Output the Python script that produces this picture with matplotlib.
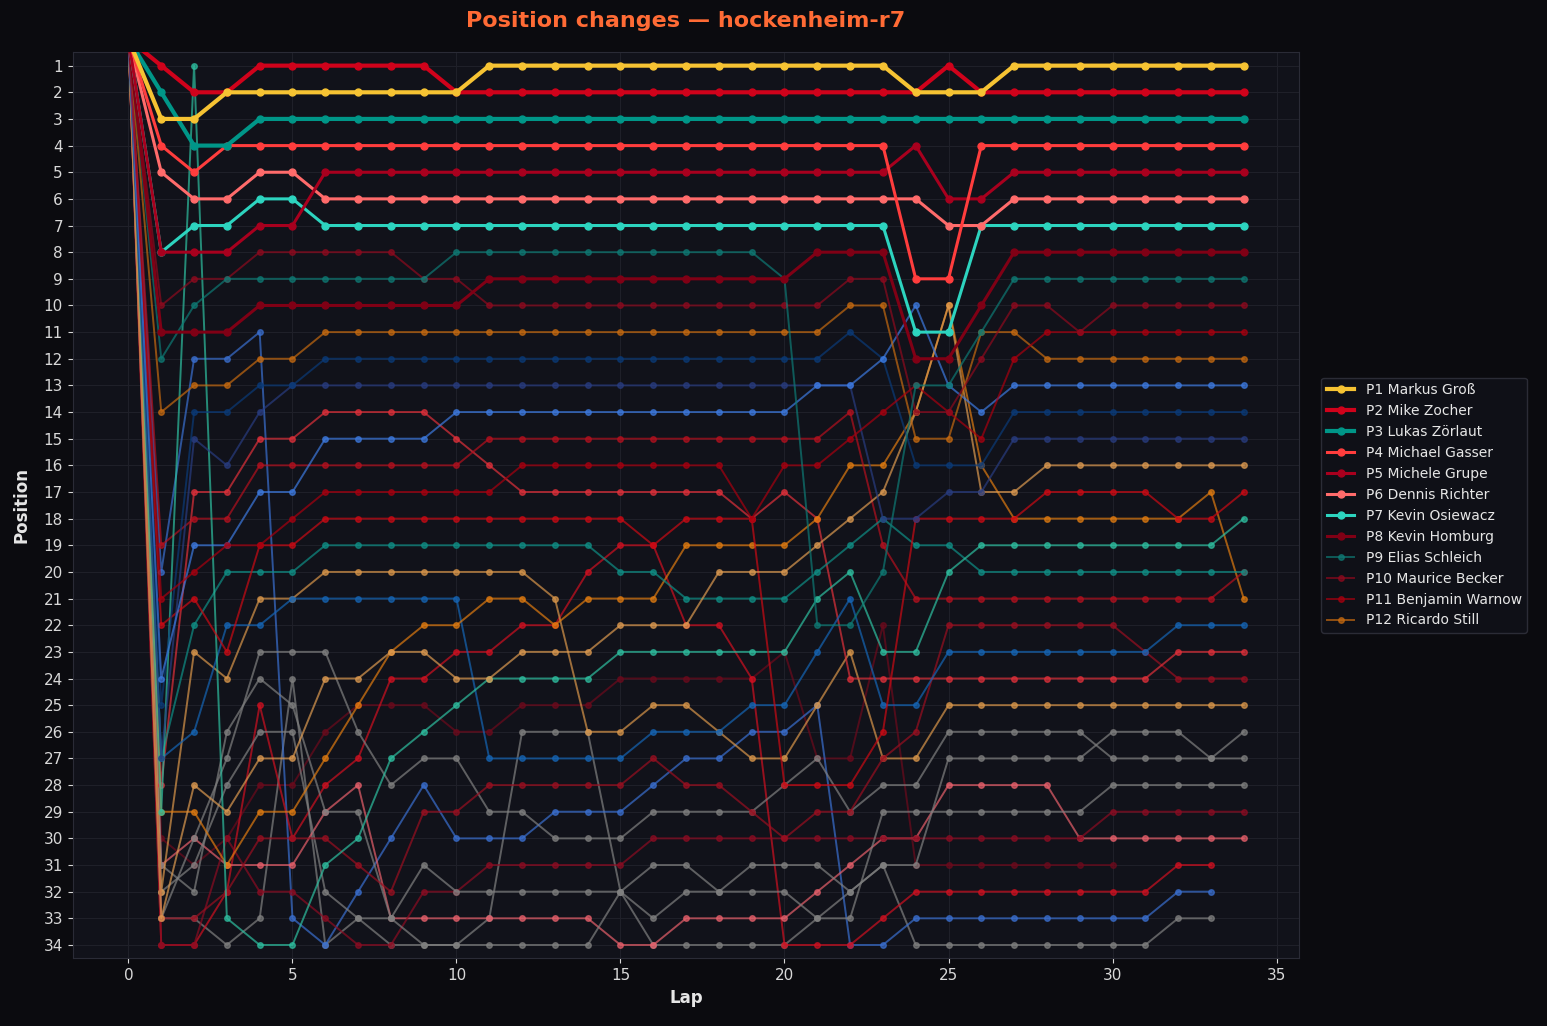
import matplotlib.pyplot as plt

# classified drivers shown in the legend
names = ["Markus Groß", "Mike Zocher", "Lukas Zörlaut", "Michael Gasser",
         "Michele Grupe", "Dennis Richter", "Kevin Osiewacz", "Kevin Homburg",
         "Elias Schleich", "Maurice Becker", "Benjamin Warnow", "Ricardo Still"]

# position per lap (index = lap), lap 0 = start
p01 = [0,3,3,2,2,2,2,2,2,2,2,1,1,1,1,1,1,1,1,1,1,1,1,1,2,2,2,1,1,1,1,1,1,1,1]
p02 = [0,1,2,2,1,1,1,1,1,1,2,2,2,2,2,2,2,2,2,2,2,2,2,2,2,1,2,2,2,2,2,2,2,2,2]
p03 = [0,2,4,4,3,3,3,3,3,3,3,3,3,3,3,3,3,3,3,3,3,3,3,3,3,3,3,3,3,3,3,3,3,3,3]
p04 = [0,4,5,4,4,4,4,4,4,4,4,4,4,4,4,4,4,4,4,4,4,4,4,4,9,9,4,4,4,4,4,4,4,4,4]
p05 = [0,8,8,8,7,7,5,5,5,5,5,5,5,5,5,5,5,5,5,5,5,5,5,5,4,6,6,5,5,5,5,5,5,5,5]
p06 = [0,5,6,6,5,5,6,6,6,6,6,6,6,6,6,6,6,6,6,6,6,6,6,6,6,7,7,6,6,6,6,6,6,6,6]
p07 = [0,8,7,7,6,6,7,7,7,7,7,7,7,7,7,7,7,7,7,7,7,7,7,7,11,11,7,7,7,7,7,7,7,7,7]
p08 = [0,11,11,11,10,10,10,10,10,10,10,9,9,9,9,9,9,9,9,9,9,8,8,8,12,12,10,8,8,8,8,8,8,8,8]
p09 = [0,12,10,9,9,9,9,9,9,9,8,8,8,8,8,8,8,8,8,8,9,22,22,20,13,13,11,9,9,9,9,9,9,9,9]
p10 = [0,10,9,9,8,8,8,8,8,9,9,10,10,10,10,10,10,10,10,10,10,10,9,9,14,14,12,10,10,11,10,10,10,10,10]
p11 = [0,21,20,19,19,18,17,17,17,17,17,17,16,16,16,16,16,16,16,18,16,16,15,14,13,14,15,12,11,11,11,11,11,11,11]
p12 = [0,14,13,13,12,12,11,11,11,11,11,11,11,11,11,11,11,11,11,11,11,11,10,10,15,15,11,11,12,12,12,12,12,12,12]
p13 = [0,24,19,19,17,17,15,15,15,15,14,14,14,14,14,14,14,14,14,14,14,13,13,12,10,13,14,13,13,13,13,13,13,13,13]
p14 = [0,25,14,14,13,13,12,12,12,12,12,12,12,12,12,12,12,12,12,12,12,12,11,12,16,16,16,14,14,14,14,14,14,14,14]
p15 = [0,27,15,16,14,13,13,13,13,13,13,13,13,13,13,13,13,13,13,13,13,13,13,18,18,17,17,15,15,15,15,15,15,15,15]
p16 = [0,33,28,29,27,27,24,24,23,23,24,24,23,23,23,22,22,22,20,20,20,19,18,17,14,10,17,17,16,16,16,16,16,16,16]
p17 = [0,22,21,23,19,19,18,18,18,18,18,18,18,18,18,18,19,18,18,18,28,28,28,26,18,18,18,18,17,17,17,17,18,18,17]
p18 = [0,29,1,33,34,34,31,30,27,26,25,24,24,24,24,23,23,23,23,23,23,21,20,23,23,20,19,19,19,19,19,19,19,19,18]
p19 = [0,27,22,20,20,20,19,19,19,19,19,19,19,19,19,20,20,21,21,21,21,20,19,18,19,19,20,20,20,20,20,20,20,20,20]
p20 = [0,19,18,18,16,16,16,16,16,16,16,15,15,15,15,15,15,15,15,15,15,15,14,19,21,21,21,21,21,21,21,21,21,21,20]
p21 = [0,29,29,31,29,29,27,25,23,22,22,21,21,22,21,21,21,19,19,19,19,18,16,16,14,10,16,18,18,18,18,18,18,17,21]
p22 = [0,27,26,22,22,21,21,21,21,21,21,27,27,27,27,27,26,26,26,25,25,23,21,25,25,23,23,23,23,23,23,23,22,22,22]
p23 = [0,28,17,17,15,15,14,14,14,14,15,16,17,17,17,17,17,17,17,18,17,18,24,24,24,24,24,24,24,24,24,24,23,23,23]
p24 = [0,33,33,32,30,30,30,31,32,29,29,28,28,28,28,28,27,28,28,29,30,29,29,27,26,22,22,22,22,22,22,23,24,24,24]
p25 = [0,32,23,24,21,21,20,20,20,20,20,20,20,21,26,26,25,25,26,27,27,25,23,27,27,25,25,25,25,25,25,25,25,25,25]
p26 = [0,31,32,26,24,25,29,29,33,31,32,32,32,32,32,32,31,31,32,31,31,31,32,31,31,27,27,27,27,27,26,26,26,27,26]
p27 = [0,33,30,27,23,23,23,26,28,27,27,29,29,30,30,30,29,29,29,29,28,27,29,28,28,26,26,26,26,26,27,27,27,27,27]
p28 = [0,32,31,28,26,26,32,33,33,34,34,34,34,34,34,32,33,32,32,32,32,33,33,29,29,29,29,29,29,29,28,28,28,28,28]
p29 = [0,34,34,30,32,32,33,34,34,32,32,31,31,31,31,31,30,30,30,30,30,30,30,30,30,30,30,30,30,30,29,29,29,29,29]
p30 = [0,31,30,31,31,31,29,28,33,33,33,33,33,33,33,34,34,33,33,33,33,32,31,30,30,28,28,28,28,30,30,30,30,30,30]
p31 = [0,34,34,32,25,30,28,27,24,24,23,23,22,22,20,19,19,22,22,24,34,34,34,33,32,32,32,32,32,32,32,32,31,31]
p32 = [0,20,12,12,11,33,34,32,30,28,30,30,30,29,29,29,28,27,27,26,26,25,34,34,33,33,33,33,33,33,33,33,32,32]
p33 = [0,33,33,34,33,24,34,33,34,34,34,33,26,26,26,32,34,34,34,34,34,33,32,31,34,34,34,34,34,34,34,34,33,33]
p34 = [0,30,31,30,28,28,26,25,25,25,26,26,25,25,25,24,24,24,24,24,23,27,27,22,31,31,31,31,31,31,31]

series = [p01, p02, p03, p04, p05, p06, p07, p08, p09, p10, p11, p12,
          p13, p14, p15, p16, p17, p18, p19, p20, p21, p22, p23, p24,
          p25, p26, p27, p28, p29, p30, p31, p32, p33, p34]

colors = ['#f6c333', '#d0021b', '#009688', '#ff3d3d', '#a8001e', '#ff6b6b',
          '#2dd4bf', '#800015', '#0e7a74', '#8e0a1e', '#a8000f', '#c66a10',
          '#3d7ae0', '#0a3a78', '#283c80', '#dd9a50', '#cc0a14', '#2ebfa0',
          '#0f8f86', '#b5101e', '#e07b10', '#1565b5', '#e0303a', '#9a0f20',
          '#d9964a', '#808080', '#808080', '#808080', '#8c0c22', '#e8606b',
          '#d01020', '#3a6fd0', '#808080', '#6d0a1c']

fig, ax = plt.subplots(figsize=(15.47, 10.26), dpi=100)
fig.patch.set_facecolor('#0b0b0f')
ax.set_facecolor('#11121a')
fig.subplots_adjust(left=0.047, right=0.840, top=0.949, bottom=0.066)

for i, pos in enumerate(series):
    if i < 3:
        lw, ms, a = 3.0, 5, 1.0
    elif i < 8:
        lw, ms, a = 2.2, 5, 1.0
    else:
        lw, ms, a = 1.4, 4, 0.7
    label = "P%d %s" % (i + 1, names[i]) if i < 12 else None
    ax.plot(range(len(pos)), pos, '-o', color=colors[i], lw=lw, ms=ms,
            alpha=a, zorder=60 - i, label=label)

ax.set_ylim(34.5, 0.5)
ax.set_xlim(-1.7, 35.7)
ax.set_yticks(range(1, 35))
ax.grid(True, color='#1f2029', lw=0.8, zorder=0)
ax.set_axisbelow(True)

ax.tick_params(colors='#d8d8d8', labelsize=11)
for s in ax.spines.values():
    s.set_color('#2a2b36')

ax.set_title("Position changes — hockenheim-r7", color='#ff6b35',
             fontsize=16, fontweight='bold', pad=18)
ax.set_xlabel("Lap", color='#e6e6e6', fontsize=12, fontweight='bold')
ax.set_ylabel("Position", color='#e6e6e6', fontsize=12, fontweight='bold',
              labelpad=9)

leg = ax.legend(loc='center left', bbox_to_anchor=(1.012, 0.5), fontsize=10,
                facecolor='#11121a', edgecolor='#33343f', labelcolor='#e6e6e6')

plt.savefig("out.png", dpi=100, facecolor=fig.get_facecolor())
